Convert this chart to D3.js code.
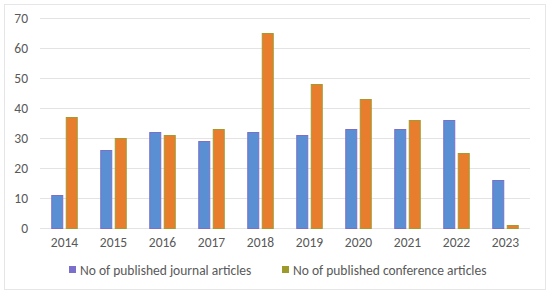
<!DOCTYPE html>
<html>
<head>
<meta charset="utf-8">
<script src="https://cdn.jsdelivr.net/npm/d3@7"></script>
<style>
  body { margin: 0; background: #fff; }
  svg text { font-family: Carlito, "Open Sans", "Liberation Sans", sans-serif; fill: #595959; }
</style>
</head>
<body>
<div id="chart"></div>
<script>
// data
const years = ["2014", "2015", "2016", "2017", "2018", "2019", "2020", "2021", "2022", "2023"];
const journal = [11, 26, 32, 29, 32, 31, 33, 33, 36, 16];
const conference = [37, 30, 31, 33, 65, 48, 43, 36, 25, 1];
const yTicks = [0, 10, 20, 30, 40, 50, 60, 70];
const seriesNames = ["No of published journal articles", "No of published conference articles"];

const W = 550, H = 296;
const margin = {top: 18.5, right: 20, bottom: 67.5, left: 40};
const width = W - margin.left - margin.right;
const height = H - margin.top - margin.bottom;

const svg = d3.select("#chart").append("svg")
    .attr("width", W).attr("height", H);

// chart border
svg.append("rect").attr("x", 4.5).attr("y", 4.5).attr("width", W - 9).attr("height", H - 11)
    .attr("fill", "#fff").attr("stroke", "#e6e6e6");

const g = svg.append("g").attr("transform", `translate(${margin.left},${margin.top})`);

const x = d3.scaleBand().domain(years).range([0, width]);
const y = d3.scaleLinear().domain([0, 70]).range([height, 0]);

// gridlines
g.selectAll(".grid").data(yTicks).enter().append("line")
    .attr("x1", 0).attr("x2", width)
    .attr("y1", d => y(d)).attr("y2", d => y(d))
    .attr("stroke", "#e3e3e3").attr("stroke-width", 1.2);

// y axis labels
const yAxis = g.append("g").call(d3.axisLeft(y).tickValues(yTicks).tickSize(0).tickPadding(12));
yAxis.select(".domain").remove();
yAxis.selectAll("text").style("font-size", "13.5px").style("fill", "#595959");

// x axis labels
const xAxis = g.append("g").attr("transform", `translate(0,${height})`)
    .call(d3.axisBottom(x).tickSize(0).tickPadding(9));
xAxis.select(".domain").remove();
xAxis.selectAll("text").style("font-size", "13.5px").style("fill", "#595959");

// bars
const barW = 11, gap = 3.5;
const series = [
    {vals: journal, fill: "#5b8fd4", edge: "#7a70c8", off: -gap / 2 - barW},
    {vals: conference, fill: "#e87d2e", edge: "#a39b30", off: gap / 2}
];
series.forEach(s => {
    g.selectAll(null).data(years).enter().append("rect")
        .attr("x", d => x(d) + x.bandwidth() / 2 + s.off)
        .attr("y", (d, i) => y(s.vals[i]))
        .attr("width", barW)
        .attr("height", (d, i) => y(0) - y(s.vals[i]))
        .attr("fill", s.fill)
        .attr("stroke", s.edge).attr("stroke-width", 1);
});

// legend
const legend = svg.append("g").attr("transform", "translate(0,270)");
const legendItems = [
    {name: seriesNames[0], color: "#7a6fcb", x: 69},
    {name: seriesNames[1], color: "#9c9a2a", x: 282}
];
legendItems.forEach(l => {
    legend.append("rect").attr("x", l.x).attr("y", -4).attr("width", 7).attr("height", 7).attr("fill", l.color);
    legend.append("text").attr("x", l.x + 11).attr("y", 0).attr("dy", "0.35em")
        .style("font-size", "13.5px").text(l.name);
});
</script>
</body>
</html>
